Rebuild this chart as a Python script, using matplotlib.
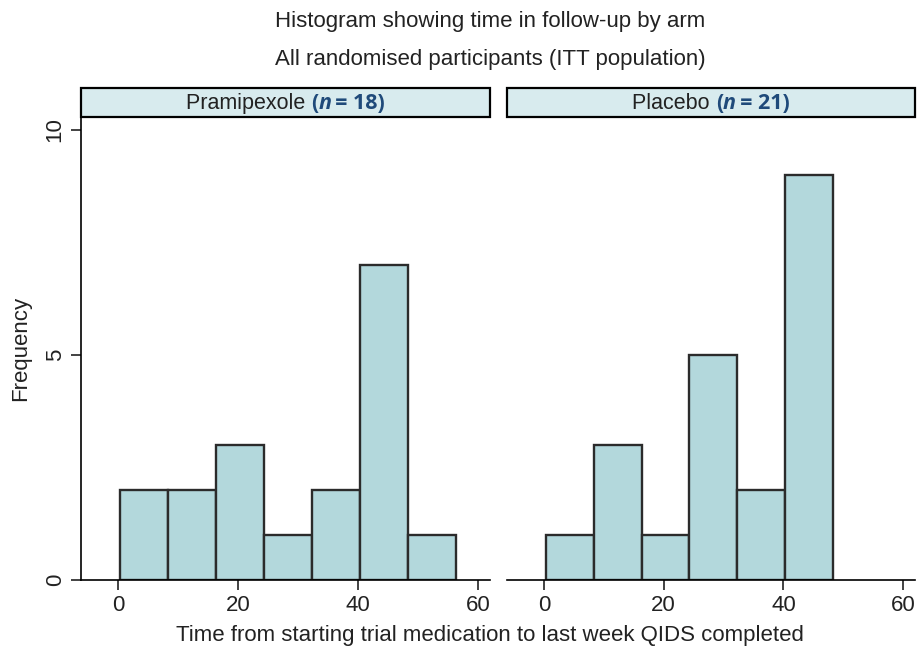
import matplotlib
matplotlib.use("Agg")
import matplotlib.pyplot as plt
from matplotlib.patches import Rectangle
import numpy as np

plt.rcParams['font.family'] = ['Liberation Sans', 'DejaVu Sans']

bin_edges = [0.3, 8.3, 16.3, 24.3, 32.3, 40.3, 48.3, 56.3]
prami_counts = [2, 2, 3, 1, 2, 7, 1]
placebo_counts = [1, 3, 1, 5, 2, 9, 0]
arms = ["Pramipexole", "Placebo"]
arm_n = [18, 21]
xticks = [0, 20, 40, 60]
yticks = [0, 5, 10]

bar_color = "#b3d8dc"
strip_color = "#d8ebee"
edge_color = "#2b2b2b"
text_color = "#222222"
n_color = "#1f4a7a"

W, H = 917, 648
fig = plt.figure(figsize=(W / 100, H / 100), dpi=100)

def fx(px):
    return px / W

def fy(py):
    return 1 - py / H

ax_bottom = fy(580)
ax_top = fy(117)
panels = [(81, 490), (507, 915)]
axes = []
for (l, r), counts, arm, n in zip(panels, [prami_counts, placebo_counts], arms, arm_n):
    ax = fig.add_axes([fx(l), ax_bottom, fx(r) - fx(l), ax_top - ax_bottom])
    edges = np.array(bin_edges)
    c = np.array(counts)
    widths = np.diff(edges)
    keep = c > 0
    ax.bar(edges[:-1][keep], c[keep], width=widths[keep], align='edge', color=bar_color,
           edgecolor=edge_color, linewidth=1.7)
    ax.set_xlim(-6.2, 62)
    ax.set_ylim(0, 10.29)
    ax.set_xticks(xticks)
    ax.set_yticks(yticks)
    ax.tick_params(axis='both', direction='out', length=7, width=1.2,
                   labelsize=16, colors=text_color, pad=4)
    for s in ['top', 'right']:
        ax.spines[s].set_visible(False)
    ax.spines['bottom'].set_linewidth(1.2)
    ax.spines['left'].set_linewidth(1.2)
    axes.append(ax)
    # strip
    strip = Rectangle((fx(l), fy(117)), fx(r) - fx(l), fy(88) - fy(117),
                      transform=fig.transFigure, facecolor=strip_color,
                      edgecolor='black', linewidth=1.6, clip_on=False)
    fig.add_artist(strip)
    # strip label pieces
    fs = 15.5
    t1 = fig.text(0, 0, arm + " ", fontsize=fs, color=text_color, va='baseline')
    t2 = fig.text(0, 0, "(", fontsize=fs, color=n_color, fontweight='bold', va='baseline',
                  family=['Open Sans', 'DejaVu Sans'])
    t3 = fig.text(0, 0, "n", fontsize=fs, color=n_color, fontweight='bold', style='italic',
                  va='baseline', family=['Open Sans', 'DejaVu Sans'])
    t4 = fig.text(0, 0, "\u2009= " + str(n) + ")", fontsize=fs, color=n_color,
                  fontweight='bold', va='baseline', family=['Open Sans', 'DejaVu Sans'])
    pieces = [t1, t2, t3, t4]
    fig.canvas.draw()
    rend = fig.canvas.get_renderer()
    ws = [p.get_window_extent(rend).width for p in pieces]
    total = sum(ws)
    cx = (l + r) / 2
    x0 = cx - total / 2
    base_y = fy(109)
    for p, w in zip(pieces, ws):
        p.set_position((fx(x0), base_y))
        x0 += w

axes[0].tick_params(axis='y', labelrotation=90)
for lab in axes[0].get_yticklabels():
    lab.set_va('center')
axes[0].set_ylabel("Frequency", fontsize=16, color=text_color, labelpad=10)
axes[1].spines['left'].set_visible(False)
axes[1].tick_params(axis='y', left=False, labelleft=False)

fig.text(0.535, fy(21), "Histogram showing time in follow-up by arm", ha='center', va='center',
         fontsize=16, color=text_color)
fig.text(0.535, fy(60), "All randomised participants (ITT population)", ha='center', va='center',
         fontsize=16, color=text_color)
fig.text(fx(490), fy(636), "Time from starting trial medication to last week QIDS completed",
         ha='center', va='center', fontsize=16, color=text_color)

fig.savefig("out.png", dpi=100)
